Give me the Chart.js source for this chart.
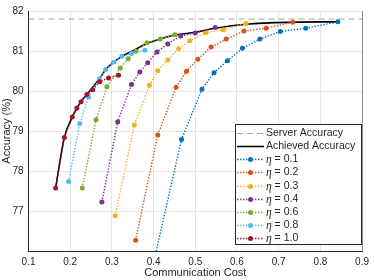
<!DOCTYPE html>
<html>
<head>
<meta charset="utf-8">
<script src="https://cdn.jsdelivr.net/npm/chart.js@4.4.0/dist/chart.umd.min.js"></script>
<style>
  html, body { margin: 0; padding: 0; background: #fff; }
  #wrap { width: 374px; height: 280px; position: relative; }
</style>
</head>
<body>
<div id="wrap"><canvas id="chart"></canvas></div>
<script>
// ── Data ──
const xTicks = [0.1, 0.2, 0.3, 0.4, 0.5, 0.6, 0.7, 0.8, 0.9];
const yTicks = [77, 78, 79, 80, 81, 82];

const serverAcc = 81.8;

const achCost = [0.165, 0.186, 0.205, 0.216, 0.226, 0.240, 0.254, 0.270, 0.285, 0.304, 0.324, 0.347, 0.363, 0.387, 0.416, 0.451, 0.500, 0.548, 0.622, 0.734, 0.842];
const achAcc  = [77.59, 78.85, 79.36, 79.58, 79.74, 79.92, 80.10, 80.31, 80.54, 80.72, 80.87, 80.99, 81.08, 81.20, 81.30, 81.40, 81.47, 81.57, 81.67, 81.72, 81.73];

const etaLabels = ['0.1', '0.2', '0.3', '0.4', '0.6', '0.8', '1.0'];
const etaColors = ['#0072BD', '#D95319', '#EDB120', '#7E2F8E', '#77AC30', '#4DBEEE', '#A2142F'];

const cost01 = [0.395, 0.467, 0.516, 0.545, 0.577, 0.613, 0.655, 0.704, 0.765, 0.842];
const acc01  = [75.50, 78.80, 80.05, 80.46, 80.76, 81.07, 81.30, 81.49, 81.57, 81.73];
const cost02 = [0.357, 0.410, 0.454, 0.479, 0.506, 0.538, 0.574, 0.617, 0.670, 0.734];
const acc02  = [76.29, 78.91, 80.10, 80.50, 80.80, 81.10, 81.30, 81.50, 81.57, 81.72];
const cost03 = [0.308, 0.354, 0.390, 0.410, 0.434, 0.460, 0.487, 0.525, 0.567, 0.622];
const acc03  = [76.90, 79.16, 80.15, 80.51, 80.78, 81.06, 81.26, 81.46, 81.53, 81.69];
const cost04 = [0.276, 0.314, 0.347, 0.367, 0.386, 0.408, 0.434, 0.465, 0.500, 0.548];
const acc04  = [77.24, 79.24, 80.17, 80.48, 80.71, 80.98, 81.18, 81.38, 81.45, 81.59];
const cost06 = [0.229, 0.262, 0.288, 0.320, 0.339, 0.358, 0.384, 0.416, 0.451];
const acc06  = [77.59, 79.29, 80.11, 80.58, 80.81, 81.00, 81.21, 81.30, 81.41];
const cost08 = [0.196, 0.223, 0.244, 0.270, 0.285, 0.304, 0.324, 0.347, 0.379];
const acc08  = [77.75, 79.19, 79.86, 80.31, 80.54, 80.72, 80.87, 80.94, 81.02];
const cost10 = [0.165, 0.186, 0.205, 0.216, 0.226, 0.240, 0.254, 0.271, 0.292, 0.316];
const acc10  = [77.59, 78.85, 79.36, 79.58, 79.74, 79.92, 80.04, 80.24, 80.33, 80.40];

const etaCost = [cost01, cost02, cost03, cost04, cost06, cost08, cost10];
const etaAcc  = [acc01, acc02, acc03, acc04, acc06, acc08, acc10];

const pts = (xs, ys) => xs.map((x, i) => ({ x, y: ys[i] }));

const FONT = '"Liberation Sans", Arial, Helvetica, sans-serif';
const TEXT = '#262626';

// ── Datasets (legend order; `order` controls drawing) ──
const datasets = [
  {
    label: 'Server Accuracy',
    data: pts([xTicks[0], xTicks[xTicks.length - 1]], [serverAcc, serverAcc]),
    borderColor: '#a6a6a6',
    borderWidth: 1,
    borderDash: [6, 4],
    pointRadius: 0,
    order: 9
  },
  {
    label: 'Achieved Accuracy',
    data: pts(achCost, achAcc),
    borderColor: '#000',
    borderWidth: 1.6,
    pointRadius: 0,
    cubicInterpolationMode: 'monotone',
    order: 8
  }
];
etaLabels.forEach((lbl, i) => {
  datasets.push({
    label: 'η = ' + lbl,
    data: pts(etaCost[i], etaAcc[i]),
    borderColor: etaColors[i],
    backgroundColor: etaColors[i],
    borderWidth: 1.4,
    borderDash: [1.4, 1.6],
    pointRadius: 2.5,
    pointBorderWidth: 0,
    pointBackgroundColor: etaColors[i],
    order: 7 - i
  });
});

// ── Boxed legend inside the axes, MATLAB style ──
const boxLegend = {
  id: 'boxLegend',
  afterDraw(chart) {
    const ctx = chart.ctx;
    const x0 = 235, y0 = 124, w = 126, h = 120, row = 13.05;
    ctx.save();
    ctx.fillStyle = '#fff';
    ctx.fillRect(x0, y0, w, h);
    ctx.strokeStyle = '#262626';
    ctx.lineWidth = 1;
    ctx.strokeRect(x0 + 0.5, y0 + 0.5, w, h);

    chart.data.datasets.forEach((ds, i) => {
      const cy = Math.round(y0 + 9.3 + i * row) + 0.5;
      ctx.strokeStyle = ds.borderColor;
      ctx.lineWidth = ds.borderWidth;
      ctx.setLineDash(ds.borderDash || []);
      ctx.beginPath();
      ctx.moveTo(237, cy);
      ctx.lineTo(264, cy);
      ctx.stroke();
      ctx.setLineDash([]);
      if (ds.pointRadius) {
        ctx.fillStyle = ds.pointBackgroundColor;
        ctx.beginPath();
        ctx.arc(250.5, cy, ds.pointRadius, 0, Math.PI * 2);
        ctx.fill();
      }
      ctx.fillStyle = TEXT;
      ctx.textBaseline = 'middle';
      ctx.textAlign = 'left';
      let tx = 266;
      let label = ds.label;
      if (label.startsWith('η')) {
        ctx.font = 'italic 11.5px "Liberation Serif", serif';
        ctx.fillText('η', tx, cy);
        tx += ctx.measureText('η').width;
        label = label.slice(1);
      }
      ctx.font = '10.5px ' + FONT;
      ctx.fillText(label, tx, cy);
    });

    // right edge of the axes box
    const a = chart.chartArea;
    ctx.strokeStyle = '#8c8c8c';
    ctx.lineWidth = 1;
    ctx.beginPath();
    ctx.moveTo(Math.round(a.right) + 0.5, a.top);
    ctx.lineTo(Math.round(a.right) + 0.5, a.bottom);
    ctx.stroke();
    ctx.restore();
  }
};

new Chart(document.getElementById('chart'), {
  type: 'line',
  data: { datasets },
  plugins: [boxLegend],
  options: {
    responsive: true,
    maintainAspectRatio: false,
    animation: false,
    layout: { padding: { top: 5, right: 6, left: 0, bottom: 0 } },
    plugins: { legend: { display: false }, tooltip: { enabled: false } },
    scales: {
      x: {
        type: 'linear',
        min: 0.1,
        max: 0.9,
        afterBuildTicks: s => { s.ticks = xTicks.map(v => ({ value: v })); },
        afterFit: s => { s.height = 29; },
        grid: { color: '#e6e6e6', drawTicks: false },
        border: { color: '#262626' },
        ticks: {
          padding: 5,
          color: TEXT,
          font: { family: FONT, size: 10 },
          callback: v => v.toFixed(1)
        },
        title: {
          display: true,
          text: 'Communication Cost',
          color: TEXT,
          font: { family: FONT, size: 11 },
          padding: { top: 0, bottom: 0 }
        }
      },
      y: {
        min: 76.02,
        max: 82,
        afterBuildTicks: s => { s.ticks = yTicks.map(v => ({ value: v })); },
        afterFit: s => { s.width = 28.5; },
        grid: { color: '#e6e6e6', drawTicks: false },
        border: { color: '#262626' },
        ticks: {
          padding: 5,
          color: TEXT,
          font: { family: FONT, size: 10 },
          callback: v => String(v)
        },
        title: {
          display: true,
          text: 'Accuracy (%)',
          color: TEXT,
          font: { family: FONT, size: 11 },
          padding: { top: 0, bottom: 0 }
        }
      }
    }
  }
});
</script>
</body>
</html>
